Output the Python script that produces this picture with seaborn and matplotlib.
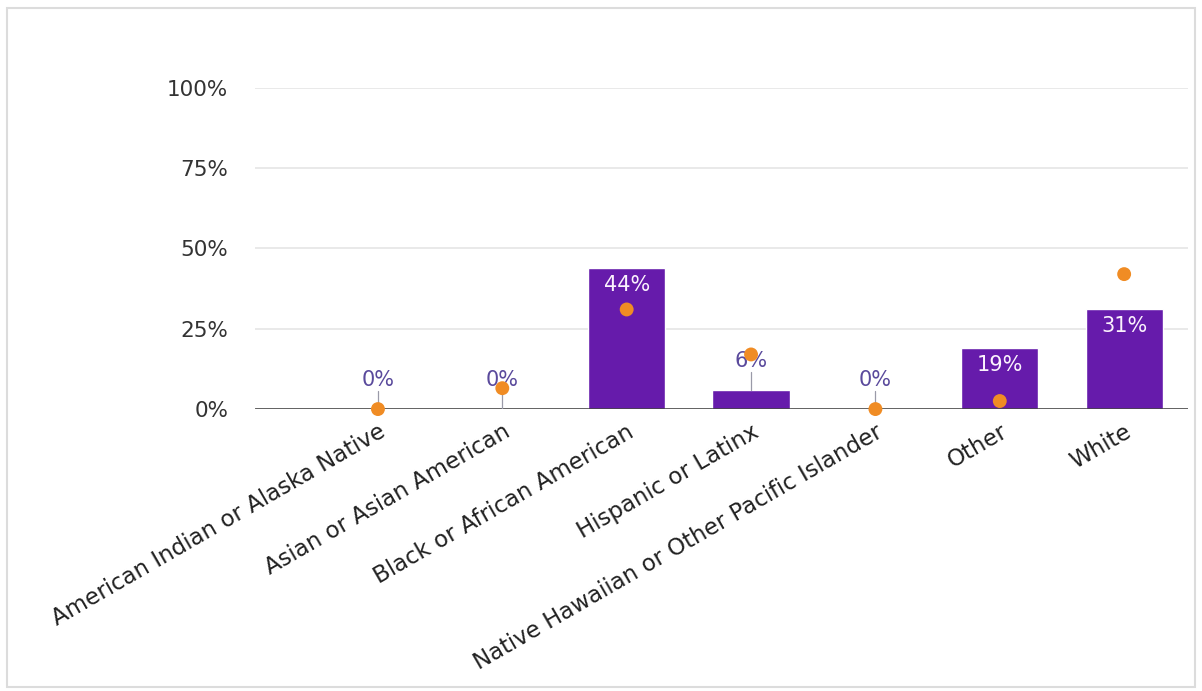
import matplotlib
matplotlib.use("Agg")
import matplotlib.pyplot as plt
import seaborn as sns
import pandas as pd
from matplotlib.patches import Rectangle
from matplotlib.ticker import FuncFormatter

categories = [
    "American Indian or Alaska Native",
    "Asian or Asian American",
    "Black or African American",
    "Hispanic or Latinx",
    "Native Hawaiian or Other Pacific Islander",
    "Other",
    "White",
]
group_pct = [0, 0, 44, 6, 0, 19, 31]
comparison_pct = [0, 6.5, 31, 17, 0, 2.5, 42]
y_ticks = [0, 25, 50, 75, 100]

bar_color = "#661bab"
dot_color = "#f08c24"
font = ["DejaVu Sans"]

sns.set_theme(style="white")
plt.rcParams["font.family"] = font

df = pd.DataFrame({"category": categories, "group": group_pct, "comparison": comparison_pct})

fig = plt.figure(figsize=(12.02, 6.91), dpi=100)
fig.patches.append(Rectangle((0.006, 0.006), 0.988, 0.982, transform=fig.transFigure,
                             fill=False, edgecolor="#dcdcdc", linewidth=1.5))
ax = fig.add_axes([0.212, 0.408, 0.776, 0.465])

sns.barplot(data=df, x="category", y="group", color=bar_color, width=0.62,
            saturation=1, ax=ax, zorder=2)

ax.set_xlim(-0.99, 6.51)
ax.set_ylim(0, 100)
ax.set_yticks(y_ticks)
ax.yaxis.set_major_formatter(FuncFormatter(lambda v, _: f"{v:.0f}%"))
ax.grid(axis="y", color="#e5e5e5", linewidth=1.2, zorder=0)
for s in ["top", "right", "left", "bottom"]:
    ax.spines[s].set_visible(False)
ax.axhline(0, color="#3a3a3a", linewidth=1.8, zorder=3)

# value labels: inside for tall bars, above with a leader line for short ones
for i, v in enumerate(group_pct):
    if v >= 10:
        ax.text(i, v - 5.3, f"{v:.0f}%", ha="center", va="center",
                color="#fbf2fd", fontsize=15, zorder=5)
    else:
        ly = v + 9
        ax.plot([i, i], [v, ly - 3.5], color="#9a9aa8", linewidth=0.9, zorder=4)
        ax.text(i, ly, f"{v:.0f}%", ha="center", va="center",
                color="#5a4a9c", fontsize=15, zorder=5)

sns.scatterplot(data=df, x="category", y="comparison", color=dot_color, s=100,
                edgecolor="none", ax=ax, zorder=6, clip_on=False)

ax.set_xlabel("")
ax.set_ylabel("")
ax.tick_params(axis="y", labelsize=15.5, colors="#333333", length=0, pad=19)
ax.tick_params(axis="x", labelsize=16.5, colors="#222222", length=0, pad=8)
for lab in ax.get_xticklabels():
    lab.set_rotation(30)
    lab.set_ha("right")
    lab.set_rotation_mode("anchor")

fig.savefig("out.png", dpi=100, facecolor="white")
